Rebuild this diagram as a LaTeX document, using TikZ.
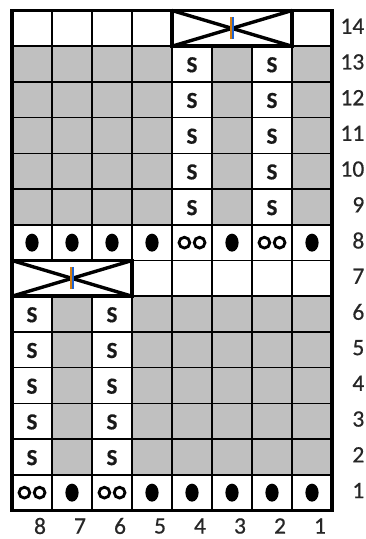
\documentclass[tikz,border=0pt]{standalone}
\usepackage{fontspec}
\setmainfont{Carlito}
\newfontfamily\numfont{Carlito}[FakeBold=0.6]
\newfontfamily\sfont{Carlito Bold}[FakeBold=0.5]
\definecolor{cellgray}{RGB}{192,192,192}
\definecolor{tickor}{RGB}{210,125,20}
\definecolor{tickbl}{RGB}{30,100,210}
\begin{document}
\begin{tikzpicture}[x=1pt,y=-1pt,
  grayc/.style={fill=cellgray},
  gridln/.style={line width=1.7pt,black},
  border/.style={line width=3.6pt,black},
  cablebox/.style={fill=white,draw=black,line width=3.8pt},
  crossln/.style={line width=3.4pt,black},
  slab/.style={font=\sfont\fontsize{23}{23}\selectfont,inner sep=0pt,text=black!90},
  numlab/.style={font=\numfont\fontsize{23.5}{23.5}\selectfont,inner sep=0pt,text=black!85},
  ring/.style={draw=black,line width=2.8pt}]
\useasboundingbox (0,0) rectangle (365,539);
\def\cw{40}
\def\rh{35.714}
\def\xo{12}
\def\yo{10.5}
% gray blocks
\foreach \r in {9,...,13}{
  \foreach \c in {8,7,6,5,3,1}{
    \fill[grayc] ({\xo+(8-\c)*\cw},{\yo+(14-\r)*\rh}) rectangle ++(\cw,\rh);
  }
}
\foreach \r in {2,...,6}{
  \foreach \c in {7,5,4,3,2,1}{
    \fill[grayc] ({\xo+(8-\c)*\cw},{\yo+(14-\r)*\rh}) rectangle ++(\cw,\rh);
  }
}
% grid lines
\foreach \i in {1,...,7}{
  \draw[gridln] ({\xo+\i*\cw},\yo) -- ({\xo+\i*\cw},{\yo+14*\rh});
}
\foreach \j in {1,...,13}{
  \draw[gridln] (\xo,{\yo+\j*\rh}) -- ({\xo+8*\cw},{\yo+\j*\rh});
}
% S stitches
\foreach \r in {9,...,13}{
  \foreach \c in {4,2}{
    \node[slab] (s\r c\c) at ({\xo+(8-\c+0.5)*\cw},{\yo+(14-\r+0.52)*\rh}) {S};
  }
}
\foreach \r in {2,...,6}{
  \foreach \c in {8,6}{
    \node[slab] (s\r c\c) at ({\xo+(8-\c+0.5)*\cw},{\yo+(14-\r+0.52)*\rh}) {S};
  }
}
% dots row 8
\foreach \c in {8,7,6,5,3,1}{
  \fill (({\xo+(8-\c+0.5)*\cw},{\yo+(6+0.5)*\rh}) ellipse (6.6 and 9);
}
\foreach \c in {4,2}{
  \draw[ring] ({\xo+(8-\c+0.5)*\cw-7.6},{\yo+(6+0.5)*\rh}) circle (5.4);
  \draw[ring] ({\xo+(8-\c+0.5)*\cw+7.6},{\yo+(6+0.5)*\rh}) circle (5.4);
}
% row 1
\foreach \c in {7,5,4,3,2,1}{
  \fill (({\xo+(8-\c+0.5)*\cw},{\yo+(13+0.5)*\rh}) ellipse (6.6 and 9);
}
\foreach \c in {8,6}{
  \draw[ring] ({\xo+(8-\c+0.5)*\cw-7.6},{\yo+(13+0.5)*\rh}) circle (5.4);
  \draw[ring] ({\xo+(8-\c+0.5)*\cw+7.6},{\yo+(13+0.5)*\rh}) circle (5.4);
}
% outer border
\draw[border] (\xo,\yo) rectangle ({\xo+8*\cw},{\yo+14*\rh});
% cable row 14 (cols 4-2)
\draw[cablebox] ({\xo+4*\cw},\yo) rectangle ({\xo+7*\cw},{\yo+\rh});
\draw[crossln] ({\xo+4*\cw},\yo) -- ({\xo+7*\cw},{\yo+\rh});
\draw[crossln] ({\xo+4*\cw},{\yo+\rh}) -- ({\xo+7*\cw},\yo);
\draw[tickor,line width=1.6pt] ({\xo+5.5*\cw-0.8},{\yo+0.5*\rh-11}) -- ++(0,22);
\draw[tickbl,line width=1.6pt] ({\xo+5.5*\cw+0.8},{\yo+0.5*\rh-11}) -- ++(0,22);
% cable row 7 (cols 8-6)
\draw[cablebox] (\xo,{\yo+7*\rh}) rectangle ({\xo+3*\cw},{\yo+8*\rh});
\draw[crossln] (\xo,{\yo+7*\rh}) -- ({\xo+3*\cw},{\yo+8*\rh});
\draw[crossln] (\xo,{\yo+8*\rh}) -- ({\xo+3*\cw},{\yo+7*\rh});
\draw[tickor,line width=1.6pt] ({\xo+1.5*\cw-0.8},{\yo+7.5*\rh-11}) -- ++(0,22);
\draw[tickbl,line width=1.6pt] ({\xo+1.5*\cw+0.8},{\yo+7.5*\rh-11}) -- ++(0,22);
% row numbers
\foreach \r in {1,...,14}{
  \node[numlab,anchor=east] (rl\r) at (364.5,{\yo+(14-\r+0.44)*\rh}) {\r};
}
% column numbers
\foreach \c in {1,...,8}{
  \node[numlab] (cl\c) at ({\xo+(8-\c+0.5)*\cw+8},526) {\c};
}
\end{tikzpicture}
\end{document}
